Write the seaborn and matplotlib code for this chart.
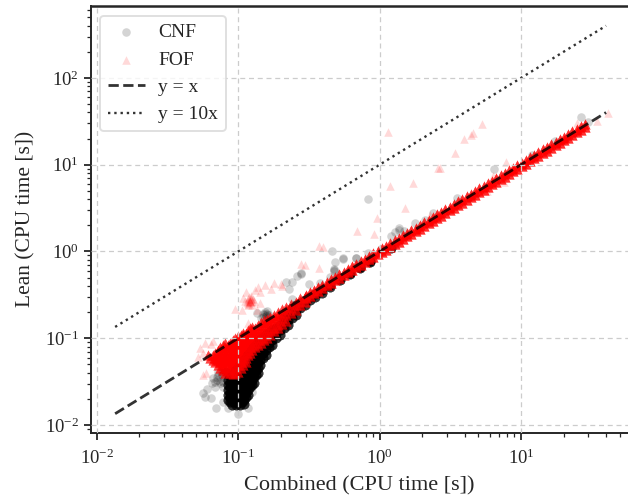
import matplotlib
matplotlib.use("Agg")
import matplotlib.pyplot as plt
import pandas as pd
import seaborn as sns

# --- Sparse, individually readable points (seconds) ---
cnf_x = [.832, 6.47, 26.7, 29.9, 3.55, 2.4, 1.79, 1.38, 1.38, 1.28, 1.2, 1.49, .553, .678, .824, 1.02, 11.9, 17.4, 2.09,
         .458, .484, .553, .678, .476, .476, .476, .446, .379, .318, .278, .278, .26, .239, .229, .218, .242,
         .15, .155, .16, .158, .15, .165, .145, .16, .155, .135,
         .0764, .0705, .065, .0685, .0743, .0807, .0785, .0725, .082, .0665, .0764, .0705, .0743, .0785, .0725, .0685,
         .0561, .064, .0697, .0582, .0851, .1, .118, .128, .126, .06, .0785]
cnf_y = [4.03, 8.87, 35.2, 31.3, 4.17, 2.76, 2.11, 1.87, 1.77, 1.69, 1.52, 1.74, .82, .84, .953, 1.07, 12.9, 18.8, 2.31,
         1.02, .757, .835, .835, .612, .6, .625, .512, .43, .418, .56, .55, .522, .449, .37, .445, .283,
         .19, .2, .19, .18, .175, .185, .17, .205, .19, .194,
         .0394, .033, .0303, .0277, .0303, .0345, .0277, .041, .041, .0345, .0375, .036, .0325, .031, .038, .031,
         .0235, .0203, .0158, .0212, .0156, .0134, .0156, .0316, .0242, .026, .0186]

fof_x = [1.15, 1.19, 1.73, 1.51, .955, .69, .92, 2.6, 2.67, 3.41, 3.98, 4.41, 4.6, 5.32, 7.83, 6.37, 7.53, 5.72, 2.27,
         41, 34.3, 24.8, 23.4,
         .373, .396, .278, .298, .373, .2, .178, .17, .155, .206, .143,
         .139, .131, .109, .095, .106, .118, .135, .143, .113,
         .115, .118, .12, .122, .124, .126, .128, .119, .123, .121, .125, .117, .13, .112, .121, .12, .123, .118,
         .0566, .0592, .0582, .064, .0537, .0522, .0561, .066]
fof_y = [23.7, 5.7, 6.2, 3.15, 2.45, 1.72, 1.58, 9.25, 9.25, 13.6, 19.8, 22, 23.4, 29.5, 10.7, 7.4, 6.4, 4.98, 2.63,
         39.2, 32.2, 30, 23,
         1.17, 1.14, .711, .698, .64, .418, .43, .37, .411, .403, .344,
         .393, .36, .289, .216, .212, .149, .212, .253, .344,
         .26, .28, .25, .27, .29, .26, .28, .3, .31, .27, .24, .24, .27, .27, .265, .275, .285, .255,
         .0377, .0398, .0875, .0859, .0766, .0612, .0676, .0918]

# --- Saturated regions: readings by x column, each reading stands for many overplotted runs ---
cnf_core_x = [.0847, .0876, .0904, .0933, .0965, .0997, .103, .1063, .11, .1137, .117, .121, .125, .1295, .134, .138,
              .143, .15, .157, .165, .173, .185, .198, .211, .225, .24, .256, .273, .297, .322, .349, .39, .446, .525,
              .618, .727, .85, 1.2]
cnf_core_y = [
    [.0194, .0222, .0253, .0289, .033],
    [.0182, .0208, .0237, .0271, .0309, .0353],
    [.017, .0194, .0222, .0253, .0289, .033, .0377],
    [.0182, .0208, .0237, .0271, .0309, .0353, .0403],
    [.017, .0194, .0222, .0253, .0289, .033, .0377, .043],
    [.0182, .0208, .0237, .0271, .0309, .0353, .0403, .046],
    [.017, .0194, .0222, .0253, .0289, .033, .0377, .043, .0492],
    [.0182, .0208, .0237, .0271, .0309, .0353, .0403, .046, .0526],
    [.0175, .0194, .0222, .0253, .0289, .033, .0377, .043, .0492, .0561],
    [.0208, .0237, .0271, .0309, .0353, .0403, .046, .0526, .06],
    [.0222, .0253, .0289, .033, .0377, .043, .0492, .0561, .0641],
    [.0271, .0309, .0353, .0403, .046, .0526, .06, .0685],
    [.0289, .033, .0377, .043, .0492, .0561, .0641, .0733],
    [.0309, .0353, .0403, .046, .0526, .06, .0685, .0783],
    [.0377, .043, .0492, .0561, .0641, .0733, .0836],
    [.0403, .046, .0526, .06, .0685, .0783, .0893],
    [.0492, .0561, .0641, .0733, .0836, .0955],
    [.06, .0685, .0783, .0893, .102],
    [.0641, .0733, .0836, .0955, .109],
    [.0783, .0893, .102, .1165],
    [.0836, .0955, .109, .1245],
    [.102, .1165, .133],
    [.109, .1245, .142],
    [.133, .152, .173],
    [.142, .162, .185],
    [.173, .198, .226],
    [.185, .212, .242],
    [.226, .258],
    [.242, .276],
    [.275, .3],
    [.295, .32],
    [.335, .36],
    [.39, .41],
    [.465, .49],
    [.545, .57],
    [.64, .67],
    [.75, .78],
    [1.1],
]
fof_core_x = [.0611, .063, .0663, .0691, .072, .075, .0781, .0813, .0847, .0882, .0919, .0957, .0997, .104, .108, .113,
              .117, .121, .125, .1315, .138, .145, .152, .16, .168, .179, .191, .204, .218, .237, .256, .273, .297]
fof_core_y = [
    [.0641],
    [.06],
    [.0561, .0641],
    [.0526, .06, .0685],
    [.0492, .0561, .0641, .0733],
    [.046, .0526, .06, .0685, .0783],
    [.043, .0492, .0561, .0641, .0733, .0836],
    [.0403, .046, .0526, .06, .0685, .0783, .0893],
    [.0415, .0492, .0561, .0641, .0733, .0836],
    [.0403, .046, .0526, .06, .0685, .0783, .0893],
    [.0385, .043, .0492, .0561, .0641, .0733, .0836, .0955],
    [.0403, .046, .0526, .06, .0685, .0783, .0893, .102],
    [.0405, .0492, .0561, .0641, .0733, .0836, .0955, .105],
    [.046, .0526, .06, .0685, .0783, .0893, .102, .11],
    [.0492, .0561, .0641, .0733, .0836, .0955, .109, .115],
    [.0526, .06, .0685, .0783, .0893, .102, .1165],
    [.0641, .0733, .0836, .0955, .109, .1245],
    [.0685, .0783, .0893, .102, .1165, .13],
    [.0733, .0836, .0955, .109, .1245, .135],
    [.0783, .0893, .102, .1165, .133],
    [.0836, .0955, .109, .1245, .142],
    [.0893, .102, .1165, .133, .152],
    [.0955, .109, .1245, .142, .162],
    [.102, .1165, .133, .152, .165],
    [.109, .1245, .142, .162, .175],
    [.12, .133, .152, .173, .185],
    [.13, .142, .162, .185, .2],
    [.145, .173, .198, .215],
    [.16, .185, .212, .23],
    [.198, .226, .25],
    [.212, .242, .265],
    [.24, .27, .29],
    [.265, .3],
]
fof_band_x = [.3, .321, .344, .369, .395, .423, .453, .486, .52, .557, .597, .64, .686, .735, .787, .844, .904, .968,
              1.04, 1.11, 1.19, 1.28, 1.37, 1.47, 1.57, 1.68, 1.8, 1.93, 2.07, 2.22, 2.38, 2.55, 2.73, 2.92, 3.13,
              3.36, 3.6, 3.85, 4.13, 4.42, 4.74, 5.08, 5.44, 5.83, 6.24, 6.69, 7.17, 7.68, 8.23, 8.81, 9.44, 10.1,
              10.8, 11.6, 12.4, 13.3, 14.3, 15.3, 16.4, 17.6, 18.8, 20.1, 21.6, 23.1, 24.8, 26.5, 28.4]
fof_band_hi = [.315, .337, .361, .387, .415, .444, .476, .51, .546, .585, .627, .672, .72, .772, .826, .886, .949,
               1.016, 1.09, 1.17, 1.25, 1.34, 1.44, 1.54, 1.65, 1.76, 1.89, 2.03, 2.17, 2.33, 2.5, 2.68, 2.87, 3.07,
               3.29, 3.53, 3.78, 4.04, 4.34, 4.64, 4.98, 5.33, 5.71, 6.12, 6.55, 7.02, 7.53, 8.06, 8.64, 9.25, 9.91,
               10.6, 11.3, 12.2, 13, 14, 15, 16.1, 17.2, 18.5, 19.7, 21.1, 22.7, 24.3, 26, 27.8, 29.8]
fof_band_lo = [.288, .308, .33, .354, .379, .406, .435, .467, .499, .535, .573, .614, .659, .706, .756, .81, .868,
               .929, .988, 1.05, 1.13, 1.22, 1.3, 1.4, 1.49, 1.6, 1.71, 1.83, 1.97, 2.11, 2.26, 2.42, 2.59, 2.77,
               2.97, 3.19, 3.42, 3.66, 3.92, 4.2, 4.5, 4.83, 5.17, 5.54, 5.93, 6.36, 6.81, 7.3, 7.82, 8.37, 8.97,
               9.6, 10.3, 11, 11.8, 12.6, 13.6, 14.5, 15.6, 16.7, 17.9, 19.1, 20.5, 21.9, 23.6, 25.2, 27]
cnf_core_runs = 8
fof_core_runs = 8
fof_band_runs = 10

line_x = [0.0135, 40]
line_eq = [0.0135, 40]
line_ten = [0.135, 400]


def frame(core_x, core_y, runs):
    xs, ys = [], []
    for cx, col in zip(core_x, core_y):
        for v in col:
            xs += [cx] * runs
            ys += [v] * runs
    return pd.DataFrame({"x": xs, "y": ys})


fof_dense = pd.concat([
    frame(fof_core_x, fof_core_y, fof_core_runs),
    frame(fof_band_x, [[a, b] for a, b in zip(fof_band_lo, fof_band_hi)], fof_band_runs),
])

sns.set_theme(style="ticks")
plt.rcParams["font.family"] = ["Liberation Serif", "DejaVu Serif"]
plt.rcParams["axes.linewidth"] = 1.4

fig = plt.figure(figsize=(6.28, 4.98), dpi=100)
ax = fig.add_axes([90.7 / 628, 65 / 498, 1 - 90.7 / 628, (433 - 5.7) / 498])

sns.scatterplot(data=frame(cnf_core_x, cnf_core_y, cnf_core_runs), x="x", y="y", ax=ax,
                color="black", alpha=0.17, s=50, linewidth=0, marker="o", legend=False)
sns.scatterplot(x=cnf_x, y=cnf_y, ax=ax, color="black", alpha=0.17, s=38, linewidth=0, marker="o", label="CNF")
sns.scatterplot(data=fof_dense, x="x", y="y", ax=ax,
                color="red", alpha=0.15, s=52, linewidth=0, marker="^", legend=False)
sns.scatterplot(x=fof_x, y=fof_y, ax=ax, color="red", alpha=0.15, s=38, linewidth=0, marker="^", label="FOF")
sns.lineplot(x=line_x, y=line_eq, ax=ax, color="black", alpha=0.8, lw=2.0, ls="--", label="y = x", errorbar=None)
sns.lineplot(x=line_x, y=line_ten, ax=ax, color="black", alpha=0.8, lw=1.7, ls=":", label="y = 10x", errorbar=None)

ax.set_xscale("log")
ax.set_yscale("log")
ax.set_xlim(10 ** -2.0424, 10 ** 1.757)
ax.set_ylim(10 ** -2.092, 10 ** 2.833)
ax.set_xlabel("Combined (CPU time [s])", fontsize=16, labelpad=6)
ax.set_ylabel("Lean (CPU time [s])", fontsize=15.5, labelpad=7)
ax.set_axisbelow(False)
ax.grid(True, which="major", color="#cccccc", lw=0.9, ls=(0, (4, 3)))
ax.tick_params(which="major", length=5, width=1.3, labelsize=13.5, direction="out", bottom=True, left=True)
ax.tick_params(axis="x", which="major", pad=6)
ax.tick_params(which="minor", length=3, width=0.9, direction="out", bottom=True, left=True)
ax.spines["right"].set_visible(False)
ax.spines["top"].set_linewidth(1.8)
ax.legend(loc="upper left", bbox_to_anchor=(0.017, 0.976), borderaxespad=0, fontsize=14, frameon=True,
          framealpha=0.8, edgecolor="#d8d8d8", fancybox=True, labelspacing=0.5, handlelength=1.9, handletextpad=0.7)
ax.get_legend().get_frame().set_linewidth(1.4)

fig.savefig("out.png", dpi=100)
